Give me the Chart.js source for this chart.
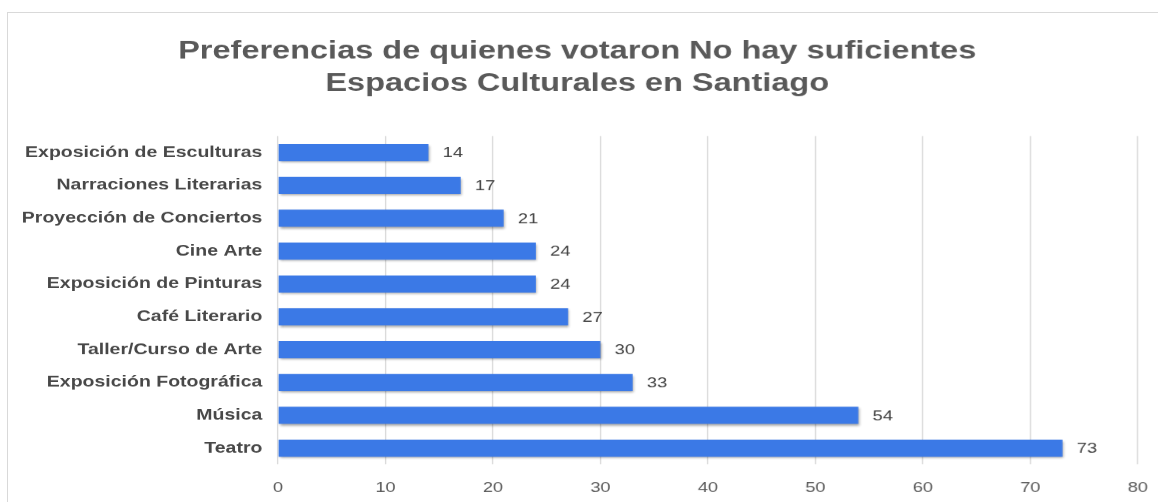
<!DOCTYPE html>
<html>
<head>
<meta charset="utf-8">
<script src="https://cdn.jsdelivr.net/npm/chart.js@4"></script>
<style>
  html, body { margin: 0; padding: 0; background: #fff; overflow: hidden; }
  #frame {
    position: absolute; left: 7px; top: 12px; width: 1160px; height: 500px;
    border: 1px solid #d9d9d9; box-sizing: border-box;
  }
  /* chart is laid out narrow and widened, giving the broad lettering */
  #wrap {
    position: absolute; left: 0; top: 0; width: 899.4px; height: 502px;
    transform: scaleX(1.3); transform-origin: 0 0;
  }
</style>
</head>
<body>
<div id="frame"></div>
<div id="wrap"><canvas id="chart"></canvas></div>
<script>
const categories = [
  "Exposición de Esculturas",
  "Narraciones Literarias",
  "Proyección de Conciertos",
  "Cine Arte",
  "Exposición de Pinturas",
  "Café Literario",
  "Taller/Curso de Arte",
  "Exposición Fotográfica",
  "Música",
  "Teatro"
];
const votes = [14, 17, 21, 24, 24, 27, 30, 33, 54, 73];
const titleLines = [
  "Preferencias de quienes votaron No hay suficientes",
  "Espacios Culturales en Santiago"
];

const FONT = "'Liberation Sans', Arial, sans-serif";

// soft drop shadow under the bars
const barShadow = {
  id: "barShadow",
  beforeDatasetsDraw(chart) {
    const c = chart.ctx;
    c.save();
    c.shadowColor = "rgba(0,0,0,0.35)";
    c.shadowBlur = 3;
    c.shadowOffsetX = 1;
    c.shadowOffsetY = 2;
  },
  afterDatasetsDraw(chart) {
    chart.ctx.restore();
  }
};

// value written just past the end of each bar
const valueLabels = {
  id: "valueLabels",
  afterDatasetsDraw(chart) {
    const c = chart.ctx;
    const meta = chart.getDatasetMeta(0);
    c.save();
    c.font = "14px " + FONT;
    c.fillStyle = "#404040";
    c.textBaseline = "middle";
    c.textAlign = "left";
    meta.data.forEach((bar, i) => {
      c.fillText(String(votes[i]), bar.x + 11, bar.y + 1);
    });
    c.restore();
  }
};

const ctx = document.getElementById("chart").getContext("2d");

new Chart(ctx, {
  type: "bar",
  data: {
    labels: categories,
    datasets: [{
      data: votes,
      backgroundColor: "#3b79e6",
      borderWidth: 0,
      categoryPercentage: 1,
      barPercentage: 0.52
    }]
  },
  plugins: [barShadow, valueLabels],
  options: {
    indexAxis: "y",
    responsive: true,
    maintainAspectRatio: false,
    animation: false,
    devicePixelRatio: 1.3,
    layout: { padding: { left: 12.8, right: 24, top: 35, bottom: -9 } },
    plugins: {
      legend: { display: false },
      tooltip: { enabled: false },
      title: {
        display: true,
        text: titleLines,
        color: "#595959",
        font: { family: FONT, size: 25, weight: "bold", lineHeight: 1.3 },
        padding: { top: 0, bottom: 36 }
      }
    },
    scales: {
      x: {
        min: 0,
        max: 80,
        ticks: {
          stepSize: 10,
          color: "#595959",
          padding: 15,
          font: { family: FONT, size: 14 }
        },
        grid: { color: "#d9d9d9", drawTicks: false },
        border: { display: false }
      },
      y: {
        ticks: {
          color: "#484848",
          padding: 4,
          font: { family: FONT, size: 15, weight: "bold" }
        },
        grid: { display: false },
        border: { display: false }
      }
    }
  }
});
</script>
</body>
</html>
